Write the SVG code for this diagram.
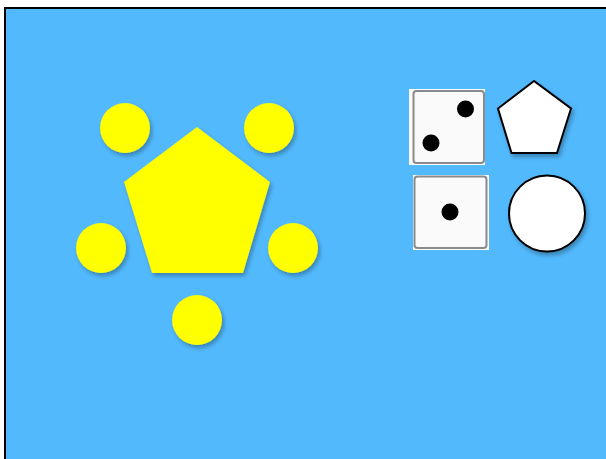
<svg xmlns="http://www.w3.org/2000/svg" width="606" height="459" viewBox="0 0 606 459">
<defs>
<filter id="sh" x="-30%" y="-30%" width="160%" height="160%">
<feGaussianBlur in="SourceAlpha" stdDeviation="2"/>
<feOffset dx="2" dy="3" result="b"/>
<feComponentTransfer><feFuncA type="linear" slope="0.3"/></feComponentTransfer>
<feMerge><feMergeNode/><feMergeNode in="SourceGraphic"/></feMerge>
</filter>
</defs>
<style>
.y{fill:#FFFF00;filter:url(#sh)}
.w{fill:#FFFFFF;stroke:#000;stroke-width:2;filter:url(#sh)}
.die{fill:#FAFAFA;stroke:#8A8A8A;stroke-width:2}
.dot{fill:#000}
</style>
<rect x="5" y="8" width="610" height="460" fill="#52B9FD" stroke="#000" stroke-width="2"/>
<g id="pentagon-yellow"><polygon class="y" points="197,127 124,182 152,273 243,273 270,182"/></g>
<g id="c1"><circle class="y" cx="125" cy="128" r="25"/></g>
<g id="c2"><circle class="y" cx="269" cy="128" r="25"/></g>
<g id="c3"><circle class="y" cx="101" cy="248" r="25"/></g>
<g id="c4"><circle class="y" cx="293" cy="248" r="25"/></g>
<g id="c5"><circle class="y" cx="197" cy="320" r="25"/></g>
<g id="die2">
<rect x="409" y="89" width="76" height="76" fill="#fff"/>
<rect class="die" x="413.5" y="91" width="70.5" height="72" rx="3"/>
<circle class="dot" cx="465.5" cy="109" r="8.5"/>
<circle class="dot" cx="431" cy="143" r="8.5"/>
</g>
<g id="die1">
<rect x="413" y="175" width="76" height="75" fill="#fff"/>
<rect class="die" x="414.5" y="176.5" width="72" height="71.5" rx="3"/>
<circle class="dot" cx="450" cy="212" r="8.5"/>
</g>
<g id="pentagon-white"><polygon class="w" points="534,81 498,108.5 511.5,153 557,153 571,108.5" stroke-width="1.5"/></g>
<g id="circle-white"><circle class="w" cx="547" cy="213.5" r="38"/></g>
<g id="connectors"/>
</svg>
